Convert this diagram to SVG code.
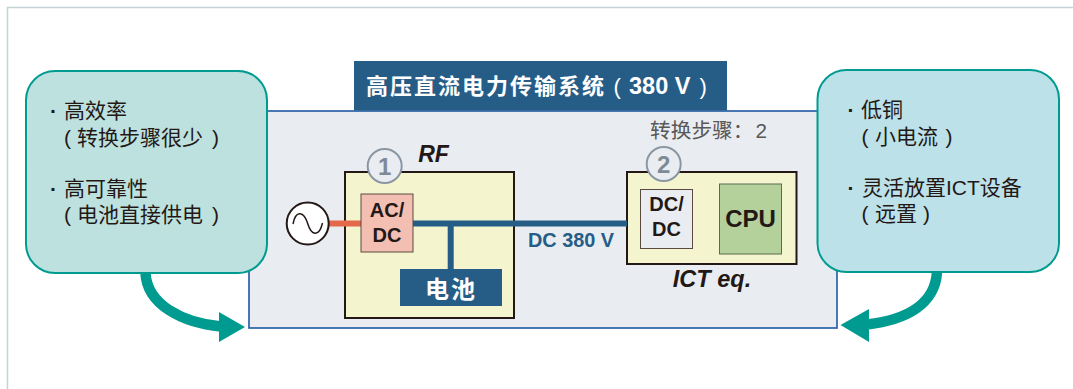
<svg xmlns="http://www.w3.org/2000/svg" width="1073" height="389" viewBox="0 0 1073 389">
<defs><style>
text{font-family:"Liberation Sans","Noto Sans CJK SC",sans-serif}
.note{font-size:21px;fill:#231815}
.dot{font-weight:700}
.b{font-weight:700}
.lab{font-size:20px;font-weight:700;fill:#231815;text-anchor:middle}
.wire{fill:none;stroke:#265d87;stroke-width:6}
.num{fill:#e9edf1;stroke:#8a97a3;stroke-width:2}
.numt{font-size:24px;font-weight:700;fill:#7f8a96;text-anchor:middle}
.box{fill:#f4f4cf;stroke:#231815;stroke-width:2}
.curve{fill:none;stroke:#009b90;stroke-width:10.5}
</style></defs>
<rect width="1073" height="389" fill="#fff"/>
<path d="M7.5 389V7.5H1073" fill="none" stroke="#c5d3d6" stroke-width="1.5"/>
<g id="panel"><rect x="249" y="111" width="588" height="217" fill="#e9edf1" stroke="#2b62a8" stroke-width="1.7"/></g>
<g id="title"><rect x="354" y="61" width="373" height="49.5" fill="#265d87"/>
<text y="94" font-size="22" fill="#fff" font-weight="700"><tspan x="366" letter-spacing="2">高压直流电力传输系统</tspan></text>
<text y="94" font-size="22" fill="#fff"><tspan x="613.500">(</tspan><tspan x="699.500">)</tspan></text>
<text x="629" y="94" font-size="23.500" fill="#fff" font-weight="700">380 V</text></g>
<g id="rf"><rect class="box" x="345" y="172" width="169" height="146"/>
<circle class="num" cx="384.700" cy="166" r="17"/><text class="numt" x="384.700" y="174.500">1</text>
<text x="433.500" y="162" font-size="23" font-weight="700" font-style="italic" fill="#231815" text-anchor="middle">RF</text></g>
<g id="ict"><rect class="box" x="627" y="172" width="169.500" height="92"/>
<circle class="num" cx="663.700" cy="164" r="17"/><text class="numt" x="663.700" y="172.500">2</text>
<text x="712" y="286.500" font-size="23.500" font-weight="700" font-style="italic" fill="#231815" text-anchor="middle">ICT eq.</text></g>
<g id="connectors">
<path d="M329 223.500H361" fill="none" stroke="#e3694a" stroke-width="6"/>
<path class="wire" d="M413 223.500H627M450.700 223.500V269"/>
<path class="curve" d="M145.500 273C147 305 183 323 221 326.500"/>
<polygon points="245,327 219,312 219,342" fill="#009b90"/>
<path class="curve" d="M937 272C935 305 905 320 867 324.500"/>
<polygon points="840.500,325 869,309 869,342" fill="#009b90"/>
</g>
<g id="callout-left"><rect x="26" y="71" width="241" height="202" rx="29" fill="#bde1de" stroke="#009b90" stroke-width="2"/>
<text class="note"><tspan class="dot" x="50" y="118">·</tspan><tspan x="64" y="118">高效率</tspan><tspan x="64" y="144.500">(</tspan><tspan x="77" y="144.500">转换步骤很少</tspan><tspan x="212" y="144.500">)</tspan><tspan class="dot" x="50" y="195.500">·</tspan><tspan x="64" y="195.500">高可靠性</tspan><tspan x="64" y="221.500">(</tspan><tspan x="77" y="221.500">电池直接供电</tspan><tspan x="212" y="221.500">)</tspan></text></g>
<g id="callout-right"><rect x="817.500" y="70" width="241.500" height="202" rx="29" fill="#bce1e9" stroke="#009b90" stroke-width="2"/>
<text class="note"><tspan class="dot" x="847.500" y="117">·</tspan><tspan x="861" y="117">低铜</tspan><tspan x="861.500" y="144">(</tspan><tspan x="875" y="144">小电流</tspan><tspan x="945.500" y="144">)</tspan><tspan class="dot" x="847.500" y="195">·</tspan><tspan x="862" y="195">灵活放置ICT设备</tspan><tspan x="861.500" y="221">(</tspan><tspan x="875" y="221">远置</tspan><tspan x="923" y="221">)</tspan></text></g>
<g id="source"><circle cx="307.700" cy="223.500" r="21" fill="#fff" stroke="#231815" stroke-width="2"/><path d="M293 224C296 209 304 212 307.700 223.500C311 235 319 238 322.500 223" fill="none" stroke="#231815" stroke-width="1.500"/></g>
<g id="acdc"><rect x="361" y="194" width="52" height="58" fill="#f2bfb2" stroke="#5a4a3f"/><text class="lab"><tspan x="387" y="217">AC/</tspan><tspan x="387" y="241.500">DC</tspan></text></g>
<g id="battery"><rect x="400" y="269" width="102" height="37" fill="#265d87"/><text x="451" y="298" font-size="24" font-weight="700" fill="#fff" text-anchor="middle" letter-spacing="2">电池</text></g>
<text id="dc-label" x="571" y="246.500" font-size="19.900" font-weight="700" fill="#265d87" text-anchor="middle">DC 380 V</text>
<text id="steps" y="138" font-size="20.700" fill="#595757"><tspan x="650">转换步骤：</tspan><tspan x="755.500">2</tspan></text>
<g id="dcdc"><rect x="640.500" y="189.500" width="52" height="59" fill="#e9edf1" stroke="#5a4a3f"/><text class="lab"><tspan x="666.500" y="211">DC/</tspan><tspan x="666.500" y="235.500">DC</tspan></text></g>
<g id="cpu"><rect x="719.500" y="184" width="62" height="70" fill="#b4d09b" stroke="#5a6b50"/><text x="750.500" y="227" font-size="24" font-weight="700" fill="#231815" text-anchor="middle">CPU</text></g>
</svg>
